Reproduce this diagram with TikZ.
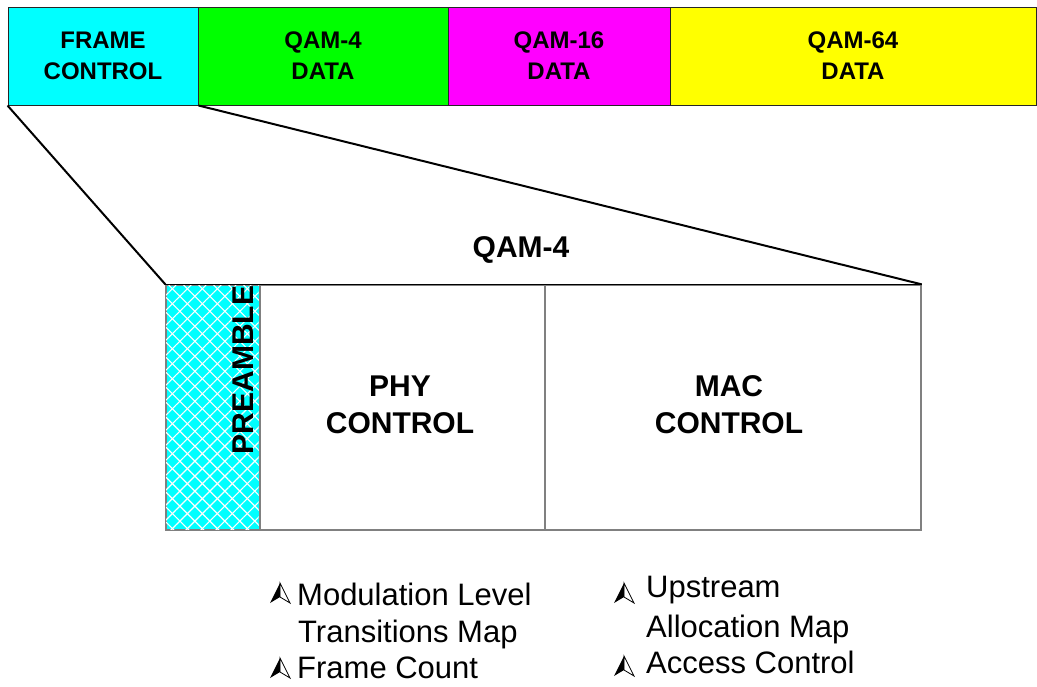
\documentclass[tikz,border=0pt]{standalone}
\usepackage{fontspec}
\setmainfont{Liberation Sans}
\usetikzlibrary{patterns.meta}
\definecolor{fcyan}{HTML}{00FFFF}
\definecolor{fgreen}{HTML}{00FF00}
\definecolor{fmag}{HTML}{FF00FF}
\definecolor{fyel}{HTML}{FFFF00}
\definecolor{boxgray}{HTML}{808080}
\tikzset{
  topbox/.style={draw=black!85, line width=1pt, inner sep=0pt, minimum height=98pt, align=center,
    font=\fontsize{24}{31}\selectfont\bfseries},
  lowbox/.style={draw=boxgray, line width=1.3pt, inner sep=0pt, minimum height=245pt},
  biglabel/.style={font=\fontsize{30}{37}\selectfont\bfseries, align=center, inner sep=0pt},
  itemtext/.style={font=\fontsize{31}{37}\selectfont, inner sep=0pt, anchor=base west},
  zoomline/.style={line width=2pt, black},
  arrowbullet/.pic={
    \fill[black] (0,0) -- (-10,20) -- (0,14) -- cycle;
    \draw[black, line width=0.8pt, line join=miter] (0,0) -- (0,14) -- (10,20) -- cycle;
  }
}
\begin{document}
\begin{tikzpicture}[x=1pt,y=-1pt]
\useasboundingbox (0,0) rectangle (1037,686);
% top frame bar
\node[topbox, fill=fcyan, minimum width=190pt] (fc) at (103,56) {FRAME\\CONTROL};
\node[topbox, fill=fgreen, minimum width=250pt] (q4) at (323,56) {QAM-4\\DATA};
\node[topbox, fill=fmag, minimum width=222pt] (q16) at (559,56) {QAM-16\\DATA};
\node[topbox, fill=fyel, minimum width=366pt] (q64) at (853,56) {QAM-64\\DATA};
% lower expanded frame control
\node[lowbox, fill=fcyan, minimum width=94pt,
  postaction={pattern={Lines[angle=45,distance=10.6pt,line width=1.1pt]}, pattern color=white},
  postaction={pattern={Lines[angle=-45,distance=10.6pt,line width=1.1pt]}, pattern color=white}]
  (pre) at (213,407.5) {};
\node[lowbox, minimum width=285pt] (phy) at (402.5,407.5) {};
\node[lowbox, minimum width=376pt] (mac) at (733,407.5) {};
\draw[boxgray, line width=1.3pt] (pre.north west) rectangle (pre.south east);
\draw[black, line width=1.3pt] (pre.north west) -- (mac.north east);
\node[biglabel, rotate=90] (pretext) at (243,370) {PREAMBLE};
\node[biglabel] (phytext) at (400,405) {PHY\\CONTROL};
\node[biglabel] (mactext) at (729,405) {MAC\\CONTROL};
\node[biglabel] (qamlabel) at (521,250) {QAM-4};
% zoom lines
\draw[zoomline] (fc.south west) -- (pre.north west);
\draw[zoomline] (fc.south east) -- (mac.north east);
% bullet lists
\node[itemtext] (it1a) at (297,605) {Modulation Level};
\node[itemtext] (it1b) at (298,642) {Transitions Map};
\node[itemtext] (it2) at (297,678) {Frame Count};
\node[itemtext] (it3a) at (646,597) {Upstream};
\node[itemtext] (it3b) at (646,637) {Allocation Map};
\node[itemtext] (it4) at (646,673) {Access Control};
\pic at (280,583) {arrowbullet};
\pic at (280,658) {arrowbullet};
\pic at (624,583) {arrowbullet};
\pic at (624,656) {arrowbullet};
\end{tikzpicture}
\end{document}
